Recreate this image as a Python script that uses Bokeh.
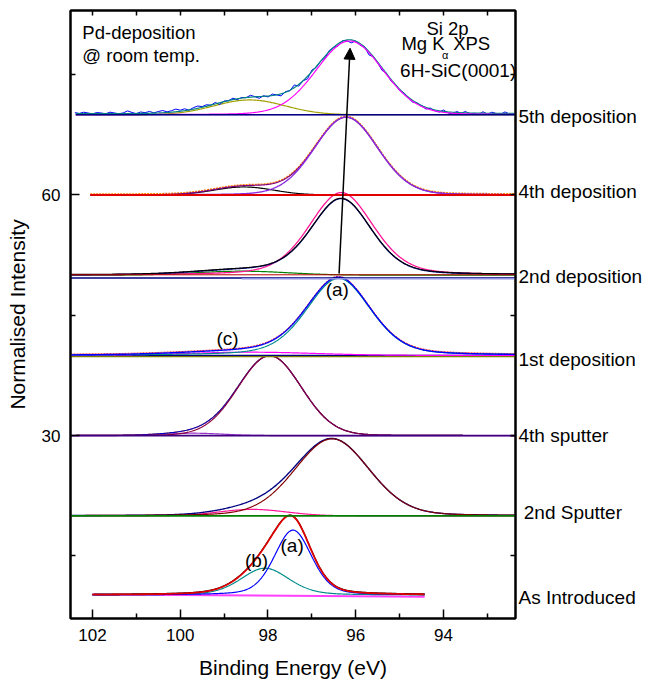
import numpy as np
from bokeh.plotting import figure
from bokeh.models import Range1d, LinearAxis, FixedTicker, Label, Arrow, NormalHead
from bokeh.embed import file_html
from bokeh.resources import INLINE

FONT = "Liberation Sans"

# ------------------------------------------------------------------ data
spectrum_names = ["As Introduced", "2nd Sputter", "4th sputter", "1st deposition",
                  "2nd deposition", "4th deposition", "5th deposition"]
offsets = [10, 20, 30, 40, 50, 60, 70]
e_start = [102.0, 102.5, 102.5, 102.5, 102.5, 102.05, 102.38]
e_end = [94.43, 92.3, 92.3, 92.3, 92.3, 92.3, 92.3]

# fitted components: centre (eV), height, FWHM (eV), Lorentzian fraction
asint_center = [97.43, 98.07]
asint_height = [8.1, 3.35]
asint_fwhm = [1.0, 1.3]
asint_eta = [0.3, 0.3]

sp2_center = [96.54, 98.35]
sp2_height = [9.6, 0.8]
sp2_fwhm = [2.0, 1.8]
sp2_eta = [0.15, 0.0]

sp4_center = [97.96, 99.7]
sp4_height = [9.95, 0.3]
sp4_fwhm = [1.7, 1.6]
sp4_eta = [0.05, 0.0]

dep1_center = [96.39, 98.4]
dep1_height = [9.6, 0.4]
dep1_fwhm = [1.72, 3.5]
dep1_eta = [0.3, 0.0]

# main peak, broad low-energy component
dep2_center = [96.33, 98.6]
dep2_height = [9.5, 0.5]
dep2_fwhm = [1.62, 2.5]
dep2_eta = [0.3, 0.0]
# alternative (wider) fit of the main peak, drawn in pink
dep2_alt = (96.33, 10.3, 1.72, 0.3)

dep4_center = [96.22, 98.55]
dep4_height = [9.7, 1.0]
dep4_fwhm = [1.7, 1.6]
dep4_eta = [0.1, 0.0]

dep5_center = [96.14, 98.42]
dep5_height = [9.2, 1.85]
dep5_fwhm = [1.8, 1.9]
dep5_eta = [0.1, 0.0]

# measured 5th deposition trace: deviations from the fit envelope, 102.4 -> 92.4 eV
dep5_resid = [0.25, 0.15, 0.3, 0.2, 0.1, 0.25, 0.2, 0.1, 0.3, 0.2,
              0.1, 0.2, 0.45, 0.25, 0.1, 0.3, 0.2, 0.35, 0.15, 0.3,
              0.4, 0.2, 0.3, 0.45, 0.25, 0.35, 0.1, 0.3, 0.4, 0.2,
              0.3, 0.1, 0.3, -0.1, 0.2, 0.1, 0.3, 0.0, 0.2, 0.1,
              0.35, 0.15, -0.1, 0.2, 0.0, 0.3, 0.1, -0.15, 0.2, 0.05,
              0.45, -0.1, 0.1, -0.2, 0.3, 0.0, 0.15, -0.1, 0.25, 0.1,
              -0.15, 0.2, 0.0, -0.25, 0.15, -0.1, 0.2, -0.3, 0.1, 0.0,
              -0.2, 0.15, -0.1, 0.1, -0.05, 0.2, 0.0, -0.1, 0.15, 0.05,
              -0.1, 0.2, 0.0, -0.05, 0.3, 0.0, -0.1, 0.25, 0.05, 0.3,
              0.0, 0.1, -0.05, 0.3, 0.0, 0.25, 0.1, 0.0, 0.3, 0.05, 0.0]

x_major = [102, 100, 98, 96, 94]
x_minor = [101, 99, 97, 95, 93]
y_major = [30, 60]
y_minor = [15, 45, 75]

# vertical positions of the spectrum names on the right
label_y = [9.8, 20.4, 30.0, 39.5, 49.8, 60.4, 69.75]

# arrow: from peak (a) of 1st deposition up to the 5th deposition maximum
arrow_from = (96.38, 50.2)
arrow_to = (96.13, 78.3)


# ------------------------------------------------------------------ helpers
def pv(e, c, h, w, eta):
    d = ((e - c) / w) ** 2
    return h * (eta / (1.0 + 4.0 * d) + (1.0 - eta) * np.exp(-4.0 * np.log(2.0) * d))


def grid(i, n=500):
    return np.linspace(e_start[i], e_end[i], n)


p = figure(width=648, height=681, output_backend="svg", toolbar_location=None,
           x_range=Range1d(102.5, 92.36), y_range=Range1d(7.2, 83.0),
           min_border_left=70, min_border_right=133, min_border_top=10,
           min_border_bottom=63, background_fill_color="white",
           border_fill_color="white", outline_line_color="black",
           outline_line_width=2)
p.xgrid.visible = False
p.ygrid.visible = False


def comps(i, centers, heights, fwhms, etas):
    e = grid(i)
    parts = [offsets[i] + pv(e, c, h, w, t) for c, h, w, t in zip(centers, heights, fwhms, etas)]
    env = offsets[i] + sum(pv(e, c, h, w, t) for c, h, w, t in zip(centers, heights, fwhms, etas))
    return e, parts, env


def base(i, color, lw=1.3, level=0.0, start=None):
    s = e_start[i] if start is None else start
    p.line([s, e_end[i]], [offsets[i] + level, offsets[i] + level], line_color=color, line_width=lw)


# As Introduced
i = 0
e, parts, env = comps(i, asint_center, asint_height, asint_fwhm, asint_eta)
parts = [q + 0.12 for q in parts]
env = env + 0.12
p.line([e_start[i], e_end[i]], [offsets[i] + 0.2, offsets[i] - 0.1], line_color="#ff40ff", line_width=2)
p.line(e, parts[1], line_color="#008b8b", line_width=1.2)
p.line(e, parts[0], line_color="#0000ff", line_width=1.2)
p.line(e, env + 0.05, line_color="black", line_width=1.2)
p.line(e, env, line_color="#e00000", line_width=1.8)

# 2nd Sputter
i = 1
e, parts, env = comps(i, sp2_center, sp2_height, sp2_fwhm, sp2_eta)
p.line(e, parts[1], line_color="#ff1493", line_width=1.2)
p.line(e, env, line_color="#000080", line_width=1.4)
p.line(e, parts[0], line_color="#800000", line_width=1.2)
base(i, "#008000", 1.6)

# 4th sputter
i = 2
e, parts, env = comps(i, sp4_center, sp4_height, sp4_fwhm, sp4_eta)
p.line(e, parts[1], line_color="#9932cc", line_width=1.2)
p.line(e, env, line_color="#ff8000", line_width=1.2)
p.line(e, env, line_color="#0000cc", line_width=1.2)
p.line(e, parts[0], line_color="#8b0040", line_width=1.2)
base(i, "#400080", 1.6)

# 1st deposition
i = 3
e, parts, env = comps(i, dep1_center, dep1_height, dep1_fwhm, dep1_eta)
base(i, "#000080", 1.2)
p.line(e, parts[1], line_color="#ff00ff", line_width=1.2)
p.line(e, env + 0.1, line_color="#ff0000", line_width=1.0, line_dash="2 1")
p.line(e, parts[0], line_color="#008b8b", line_width=1.2)
p.line(e, env, line_color="#0000ff", line_width=1.4)
base(i, "#808000", 1.4, level=-0.15)

# 2nd deposition
i = 4
e, parts, env = comps(i, dep2_center, dep2_height, dep2_fwhm, dep2_eta)
alt = offsets[i] + pv(e, *dep2_alt)
base(i, "#000080", 1.4, level=-0.35)
base(i, "#9090e0", 1.4, level=-0.45, start=98.6)
p.line(e, parts[1], line_color="#008000", line_width=1.2)
p.line(e, alt, line_color="#ff1493", line_width=1.3)
p.line(e, env, line_color="#000080", line_width=1.3)
p.line(e, env + 0.05, line_color="black", line_width=1.1)
base(i, "#c00000", 1.0, level=0.05)

# 4th deposition
i = 5
e, parts, env = comps(i, dep4_center, dep4_height, dep4_fwhm, dep4_eta)
p.line(e, parts[1], line_color="black", line_width=1.2)
p.line(e, env + 0.1, line_color="#ff8000", line_width=1.6, line_dash="2 1")
p.line(e, env, line_color="#800080", line_width=1.2)
p.line(e, parts[0], line_color="#8a2be2", line_width=1.4)
base(i, "#e00000", 1.8)

# 5th deposition
i = 6
e, parts, env = comps(i, dep5_center, dep5_height, dep5_fwhm, dep5_eta)
e_meas = np.linspace(102.4, 92.4, len(dep5_resid))
meas = offsets[i] + sum(pv(e_meas, c, h, w, t) for c, h, w, t in
                        zip(dep5_center, dep5_height, dep5_fwhm, dep5_eta)) + np.array(dep5_resid)
base(i, "#a040ff", 1.2)
p.line(e, parts[1], line_color="#a0a000", line_width=1.2)
p.line(e_meas, meas, line_color="#0000ff", line_width=1.0)
p.line(e, env + 0.12, line_color="#008080", line_width=1.2)
p.line(e, parts[0], line_color="#ff00ff", line_width=1.2)
base(i, "#000080", 1.3, level=0.0)

# arrow
p.add_layout(Arrow(end=NormalHead(size=11, fill_color="black", line_color="black"),
                   x_start=arrow_from[0], y_start=arrow_from[1],
                   x_end=arrow_to[0], y_end=arrow_to[1],
                   line_color="black", line_width=1.5))

# ------------------------------------------------------------------ axes
xt = FixedTicker(ticks=x_major, minor_ticks=x_minor)
yt = FixedTicker(ticks=y_major, minor_ticks=y_minor)

ax = p.xaxis[0]
ax.ticker = xt
ay = p.yaxis[0]
ay.ticker = yt
for a in (ax, ay):
    a.major_tick_in = 9
    a.major_tick_out = 0
    a.minor_tick_in = 5
    a.minor_tick_out = 0
    a.axis_line_width = 2
    a.major_tick_line_width = 1.5
    a.minor_tick_line_width = 1.5
    a.major_label_text_font = FONT
    a.major_label_text_font_size = "17px"
    a.major_label_text_color = "black"
    a.axis_label_text_font = FONT
    a.axis_label_text_font_size = "21px"
    a.axis_label_text_font_style = "normal"
    a.axis_label_text_color = "black"
    a.major_label_standoff = 10
ax.axis_label = "Binding Energy (eV)"
ax.axis_label_standoff = 12
ay.axis_label = "Normalised Intensity"
ay.axis_label_standoff = 10

top = LinearAxis(ticker=FixedTicker(ticks=x_major + x_minor, minor_ticks=[]))
top.major_tick_in = 5
top.major_tick_out = 0
top.minor_tick_in = 0
top.minor_tick_out = 0
top.major_tick_line_width = 1.5
top.axis_line_width = 2
top.major_label_text_font_size = "0px"
top.major_label_standoff = 0
top.major_label_text_color = None
p.add_layout(top, "above")

# right axis: spectrum names as labels at their positions, y ticks as minor ticks
right = LinearAxis(ticker=FixedTicker(ticks=label_y, minor_ticks=y_minor + y_major))
right.major_label_overrides = {yy: ("\u00a0" + n if n == "2nd Sputter" else n)
                               for yy, n in zip(label_y, spectrum_names)}
right.major_tick_in = 0
right.major_tick_out = 0
right.minor_tick_in = 5
right.minor_tick_out = 0
right.minor_tick_line_width = 1.5
right.axis_line_width = 2
right.major_label_text_font = FONT
right.major_label_text_font_size = "19px"
right.major_label_text_color = "black"
right.major_label_standoff = 3
p.add_layout(right, "right")


# ------------------------------------------------------------------ texts
def lab(x, y, t, size="18.5px", align="left"):
    p.add_layout(Label(x=x, y=y, text=t, text_font=FONT, text_font_size=size,
                       text_align=align, text_baseline="middle", text_color="black"))


lab(102.23, 80.3, "Pd-deposition")
lab(102.23, 77.35, "@ room temp.")
lab(94.39, 80.8, "Si 2p")
lab(94.96, 78.85, "Mg K")
lab(93.96, 77.45, "\u03b1", size="11px", align="center")
lab(93.78, 78.85, "XPS")
lab(94.99, 75.5, "6H-SiC(0001)", size="19px")

lab(96.42, 48.2, "(a)", size="19px", align="center")
lab(98.92, 42.1, "(c)", size="19px", align="center")
lab(97.45, 16.25, "(a)", size="19px", align="center")
lab(98.26, 14.4, "(b)", size="19px", align="center")

open("out.html", "w").write(file_html(p, INLINE))
